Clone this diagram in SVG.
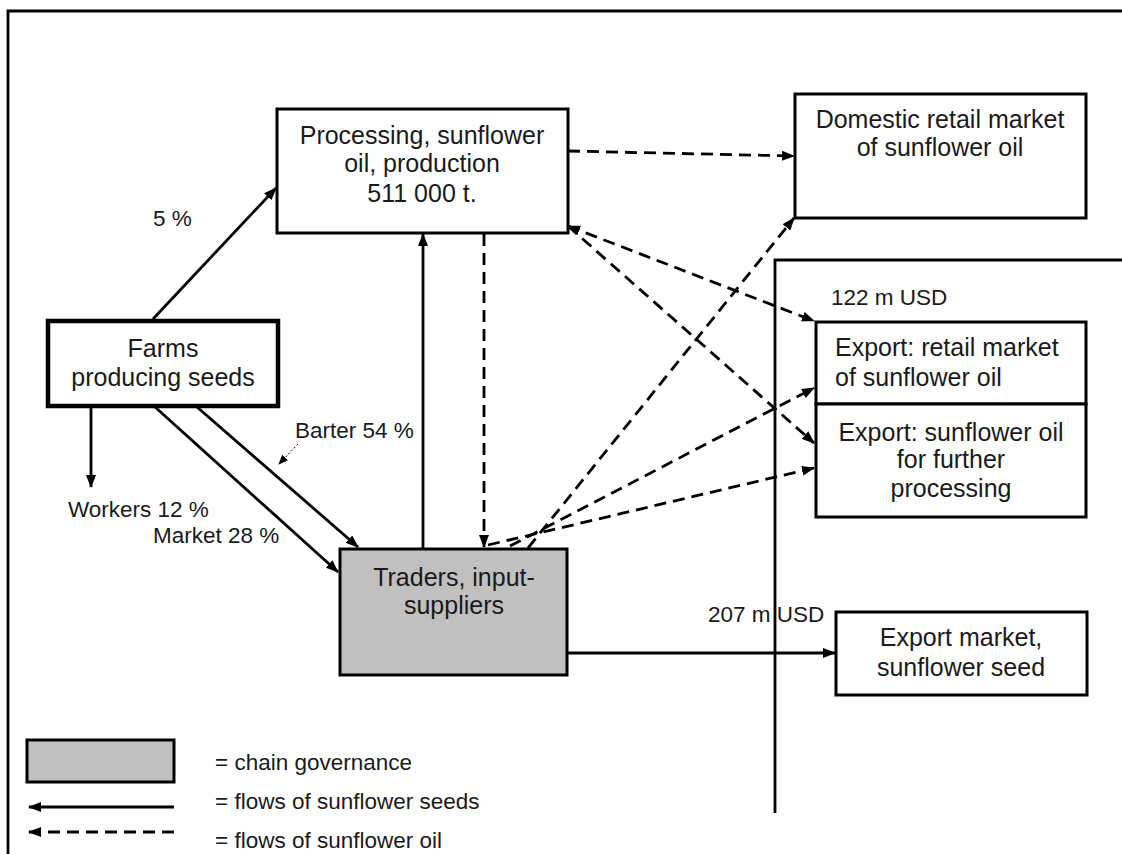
<svg xmlns="http://www.w3.org/2000/svg" width="1122" height="854" viewBox="0 0 1122 854">
  <style>
    .box { fill: #ffffff; stroke: #000000; stroke-width: 3; }
    .thick { stroke-width: 4.5; }
    .gov { fill: #c0c0c0; }
    .lbl { font-family: "Liberation Sans", Arial, sans-serif; font-size: 25px; fill: #1a1a1a; text-anchor: middle; }
    .left { text-anchor: start; }
    .note { font-family: "Liberation Sans", Arial, sans-serif; font-size: 22.5px; fill: #1a1a1a; }
    .seed { fill: none; stroke: #000000; stroke-width: 2.8; marker-end: url(#head); }
    .oil { fill: none; stroke: #000000; stroke-width: 2.8; stroke-dasharray: 12 7; marker-end: url(#head); }
    .frame { fill: none; stroke: #000000; stroke-width: 2.8; }
  </style>
  <defs>
    <marker id="head" viewBox="0 0 13 10" refX="12" refY="5" markerWidth="13" markerHeight="10" markerUnits="userSpaceOnUse" orient="auto">
      <path d="M0,0 L13,5 L0,10 Z" fill="#000000"/>
    </marker>
    <marker id="tail" viewBox="0 0 13 10" refX="12" refY="5" markerWidth="13" markerHeight="10" markerUnits="userSpaceOnUse" orient="auto-start-reverse">
      <path d="M0,0 L13,5 L0,10 Z" fill="#000000"/>
    </marker>
    <marker id="small" viewBox="0 0 10 8" refX="9" refY="4" markerWidth="10" markerHeight="8" markerUnits="userSpaceOnUse" orient="auto">
      <path d="M0,0 L10,4 L0,8 Z" fill="#000000"/>
    </marker>
  </defs>

  <rect width="1122" height="854" fill="#ffffff"/>

  <!-- page frame and export-zone border -->
  <g id="frame">
    <polyline class="frame" points="8,854 8,11 1122,11"/>
    <polyline class="frame" points="775,813 775,260 1122,260"/>
  </g>

  <!-- flows -->
  <g id="connectors">
    <!-- seed flows -->
    <line class="seed" x1="153" y1="319" x2="276" y2="188"/>
    <line class="seed" x1="91" y1="406" x2="91" y2="487"/>
    <line class="seed" x1="155" y1="407" x2="338" y2="572"/>
    <line class="seed" x1="197" y1="407" x2="358" y2="547"/>
    <line class="seed" x1="423" y1="549" x2="423" y2="234"/>
    <line class="seed" x1="567" y1="653" x2="835" y2="653"/>
    <!-- oil flows -->
    <line class="oil" x1="484" y1="234" x2="484" y2="547"/>
    <line class="oil" x1="568" y1="151" x2="794" y2="156"/>
    <line class="oil" x1="568" y1="226" x2="814" y2="321" style="marker-start:url(#tail)"/>
    <line class="oil" x1="568" y1="226" x2="814" y2="443"/>
    <line class="oil" x1="528" y1="548" x2="794" y2="218"/>
    <line class="oil" x1="510" y1="546" x2="814" y2="388"/>
    <line class="oil" x1="488" y1="545" x2="814" y2="468"/>
    <!-- pointer for the barter label -->
    <line x1="298" y1="444" x2="279" y2="464" stroke="#000000" stroke-width="1" stroke-dasharray="2 2" marker-end="url(#small)"/>
  </g>

  <g id="processing">
    <rect class="box" x="277" y="109" width="291" height="124"/>
    <text class="lbl" x="422" y="144">Processing, sunflower</text>
    <text class="lbl" x="422" y="172">oil, production</text>
    <text class="lbl" x="422" y="202">511 000 t.</text>
  </g>

  <g id="domestic">
    <rect class="box" x="795" y="94" width="291" height="124"/>
    <text class="lbl" x="940" y="128">Domestic retail market</text>
    <text class="lbl" x="940" y="156">of sunflower oil</text>
  </g>

  <g id="farms">
    <rect class="box thick" x="48" y="321" width="230" height="85"/>
    <text class="lbl" x="163" y="357">Farms</text>
    <text class="lbl" x="163" y="386">producing seeds</text>
  </g>

  <g id="traders">
    <rect class="box gov" x="340" y="549" width="227" height="126"/>
    <text class="lbl" x="454" y="586">Traders, input-</text>
    <text class="lbl" x="454" y="614">suppliers</text>
  </g>

  <g id="export-retail">
    <rect class="box" x="816" y="322" width="270" height="82"/>
    <text class="lbl left" x="835" y="356">Export: retail market</text>
    <text class="lbl left" x="835" y="386">of sunflower oil</text>
  </g>

  <g id="export-further">
    <rect class="box" x="816" y="404" width="270" height="113"/>
    <text class="lbl" x="951" y="441">Export: sunflower oil</text>
    <text class="lbl" x="951" y="468">for further</text>
    <text class="lbl" x="951" y="497">processing</text>
  </g>

  <g id="export-seed">
    <rect class="box" x="836" y="612" width="251" height="83"/>
    <text class="lbl" x="961" y="646">Export market,</text>
    <text class="lbl" x="961" y="676">sunflower seed</text>
  </g>

  <g id="labels">
    <text class="note" x="153" y="226">5 %</text>
    <text class="note" x="295" y="438">Barter 54 %</text>
    <text class="note" x="68" y="517">Workers 12 %</text>
    <text class="note" x="153" y="543">Market 28 %</text>
    <text class="note" x="831" y="305">122 m USD</text>
    <text class="note" x="708" y="622">207 m USD</text>
  </g>

  <g id="legend">
    <rect class="box gov" x="27" y="740" width="147" height="42" stroke-width="1.5"/>
    <text class="note" x="215" y="770">= chain governance</text>
    <line class="seed" x1="174" y1="807" x2="29" y2="807"/>
    <text class="note" x="215" y="809">= flows of sunflower seeds</text>
    <line class="oil" x1="174" y1="832" x2="29" y2="832"/>
    <text class="note" x="215" y="848">= flows of sunflower oil</text>
  </g>
</svg>
